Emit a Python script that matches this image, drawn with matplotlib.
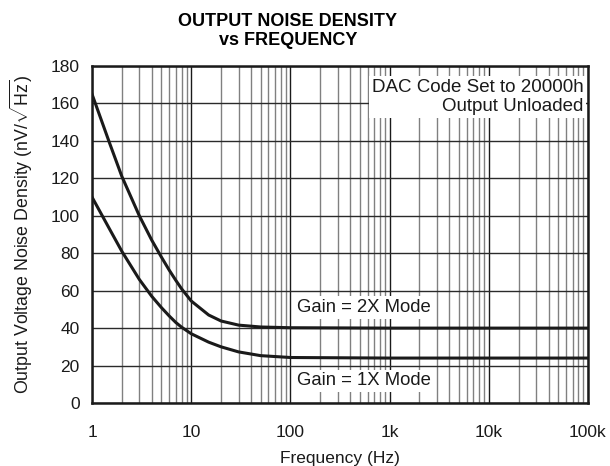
import numpy as np
import matplotlib
matplotlib.use("Agg")
import matplotlib.pyplot as plt
from matplotlib.ticker import FixedLocator, LogLocator, NullFormatter

plt.rcParams['font.family'] = ['Liberation Sans', 'DejaVu Sans']
plt.rcParams['mathtext.fontset'] = 'custom'
plt.rcParams['mathtext.rm'] = 'Liberation Sans'

# values
freq = [1, 1.5, 2, 3, 4, 5, 6, 7, 8, 10, 15, 20, 30, 50, 100, 1000, 10000, 100000]
gain2x = [165, 139, 121, 100, 87, 78, 71, 65.5, 61, 54.5, 47, 43.8, 41.6, 40.6, 40.2, 40, 40, 40]
gain1x = [110, 93, 81, 66, 57, 51, 46.5, 43, 40.5, 37, 32.5, 30, 27.3, 25.3, 24.3, 24, 24, 24]

xticks = [1, 10, 100, 1000, 10000, 100000]
xlabels = ['1', '10', '100', '1k', '10k', '100k']
yticks = list(range(0, 181, 20))

fig = plt.figure(figsize=(6.1, 4.66), dpi=100)
ax = fig.add_axes([92/610, 63/466, 496/610, 337/466])

ax.set_xscale('log')
ax.set_xlim(1, 100000)
ax.set_ylim(0, 180)

ax.xaxis.set_major_locator(FixedLocator(xticks))
ax.set_xticklabels(xlabels)
ax.xaxis.set_minor_locator(LogLocator(base=10, subs=np.arange(2, 10)))
ax.xaxis.set_minor_formatter(NullFormatter())
ax.set_yticks(yticks)

ax.grid(which='major', axis='x', color='#1a1a1a', lw=1.0, zorder=0)
ax.grid(which='minor', axis='x', color='#808080', lw=1.0, zorder=0)
ax.grid(which='major', axis='y', color='#2a2a2a', lw=1.0, zorder=0)
ax.set_axisbelow(True)

ax.tick_params(which='both', length=0)
ax.tick_params(axis='y', pad=9, labelsize=12.5, colors='#1a1a1a')
ax.tick_params(axis='x', pad=16, labelsize=12.5, colors='#1a1a1a')
for s in ax.spines.values():
    s.set_linewidth(1.8)
    s.set_color('#1a1a1a')

ax.plot(freq, gain2x, color='#1a1a1a', lw=2.2, zorder=3)
ax.plot(freq, gain1x, color='#1a1a1a', lw=2.2, zorder=3)

box = dict(facecolor='white', edgecolor='none', pad=2)
ax.text(90000, 163.5, 'DAC Code Set to 20000h\nOutput Unloaded', ha='right', va='center',
        fontsize=13.5, linespacing=1.15, bbox=box, zorder=4, color='#1a1a1a')
ax.text(117, 50.9, 'Gain = 2X Mode', ha='left', va='center', fontsize=13.3, bbox=box, zorder=4,
        color='#1a1a1a')
ax.text(117, 11.8, 'Gain = 1X Mode', ha='left', va='center', fontsize=13.3, bbox=box, zorder=4,
        color='#1a1a1a')

ax.set_xlabel('Frequency (Hz)', fontsize=12.5, labelpad=8, color='#1a1a1a')
ax.set_ylabel(r'Output Voltage Noise Density (nV/$\sqrt{\mathrm{Hz}}$)', fontsize=12.8, labelpad=11,
              color='#1a1a1a')

fig.text(288/610, 1 - 31/466, 'OUTPUT NOISE DENSITY\nvs FREQUENCY', ha='center', va='center',
         fontsize=13, fontweight='bold', linespacing=1.2)

fig.savefig('out.png', dpi=100)
